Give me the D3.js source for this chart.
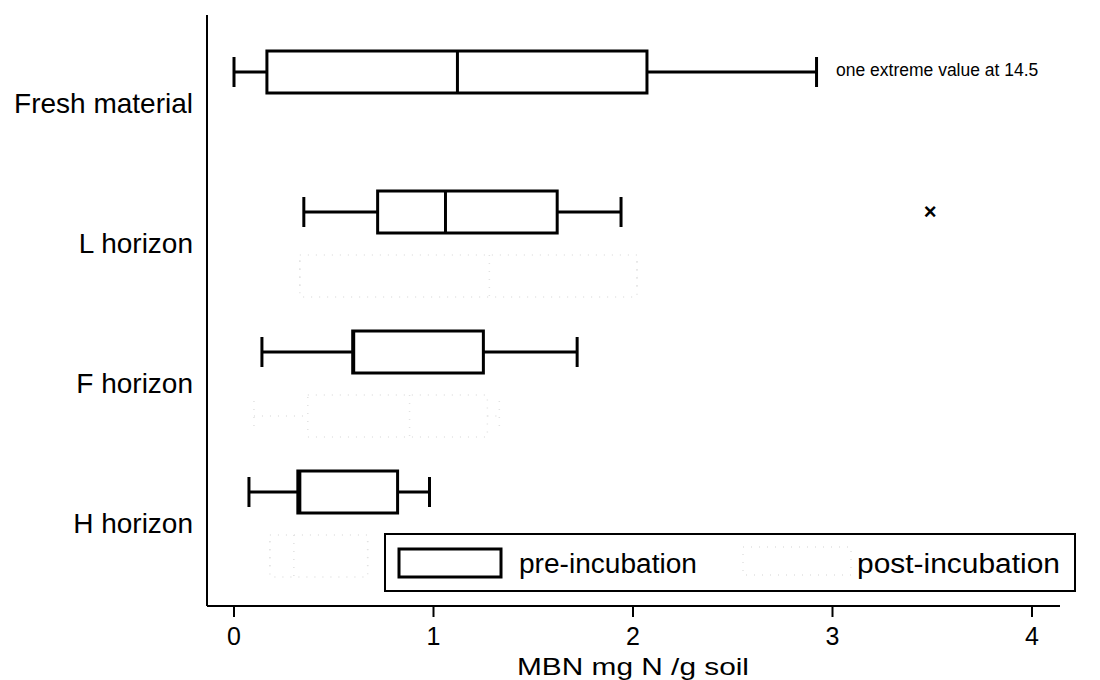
<!DOCTYPE html>
<html>
<head>
<meta charset="utf-8">
<script src="https://cdn.jsdelivr.net/npm/d3@7"></script>
<style>
  body { margin: 0; background: #fff; }
  text { font-family: Arial, "Liberation Sans", sans-serif; fill: #000; }
</style>
</head>
<body>
<svg></svg>
<script>
const size = {w: 1100, h: 680};
const svg = d3.select('svg').attr('width', size.w).attr('height', size.h);

// ---- data ----
const groups = ['Fresh material', 'L horizon', 'F horizon', 'H horizon'];
const xTicks = [0, 1, 2, 3, 4];
// five number summaries: [min, q1, median, q3, max]
const preStats = [
    [0.0, 0.165, 1.12, 2.07, 2.92],
    [0.35, 0.72, 1.06, 1.62, 1.94],
    [0.14, 0.595, 0.6, 1.25, 1.72],
    [0.075, 0.32, 0.33, 0.82, 0.98]
];
// post incubation boxes are barely visible (very pale print)
const postGroups = ['L horizon', 'F horizon', 'H horizon'];
const postStats = [
    [0.33, 0.33, 1.28, 2.02, 2.02],
    [0.1, 0.37, 0.88, 1.27, 1.33],
    [0.18, 0.18, 0.3, 0.67, 0.67]
];
const outliers = [{group: 'L horizon', value: 3.49}];
const note = 'one extreme value at 14.5';

// ---- scales ----
const x = d3.scaleLinear().domain([0, 4]).range([234, 1032]);
const y = d3.scaleBand().domain(groups).range([33, 593]);
const preOffset = -31, postOffset = 33, boxH = 42;
const pale = '#e2e2e2';

// axes lines
svg.append('line').attr('x1', 207).attr('x2', 207).attr('y1', 15).attr('y2', 606)
    .attr('stroke', '#000').attr('stroke-width', 2);
svg.append('line').attr('x1', 207).attr('x2', 1060).attr('y1', 606).attr('y2', 606)
    .attr('stroke', '#000').attr('stroke-width', 2);

// x ticks
const xAxis = svg.append('g').attr('transform', 'translate(0,606)');
xAxis.selectAll('line').data(xTicks).join('line')
    .attr('x1', d => x(d)).attr('x2', d => x(d))
    .attr('y1', 0).attr('y2', 11)
    .attr('stroke', '#000').attr('stroke-width', 2);
xAxis.selectAll('text').data(xTicks).join('text')
    .attr('x', d => x(d)).attr('y', 39)
    .attr('text-anchor', 'middle')
    .style('font-size', '25px')
    .text(d => d);
svg.append('text').attr('x', x(2)).attr('y', 675)
    .attr('text-anchor', 'middle').style('font-size', '24px')
    .attr('textLength', 232).attr('lengthAdjust', 'spacingAndGlyphs')
    .text('MBN mg N /g soil');

// group labels
svg.selectAll('text.glabel').data(groups).join('text')
    .classed('glabel', true)
    .attr('x', 193)
    .attr('y', d => y(d) + y.bandwidth() / 2 + 10)
    .attr('text-anchor', 'end')
    .style('font-size', '28px')
    .text(d => d);

function drawBoxes(g, data, names, offset, color, width, dash) {
    const sel = g.selectAll('g.box').data(data).join('g').classed('box', true)
        .attr('transform', (d, i) => `translate(0,${y(names[i]) + y.bandwidth() / 2 + offset})`);
    const st = s => s.attr('stroke', color).attr('stroke-width', width).attr('stroke-dasharray', dash).attr('fill', 'none');
    // whiskers
    sel.append('line').attr('x1', d => x(d[0])).attr('x2', d => x(d[1])).attr('y1', 0).attr('y2', 0).call(st);
    sel.append('line').attr('x1', d => x(d[3])).attr('x2', d => x(d[4])).attr('y1', 0).attr('y2', 0).call(st);
    // caps
    sel.append('line').attr('x1', d => x(d[0])).attr('x2', d => x(d[0])).attr('y1', -15).attr('y2', 15).call(st);
    sel.append('line').attr('x1', d => x(d[4])).attr('x2', d => x(d[4])).attr('y1', -15).attr('y2', 15).call(st);
    // box
    sel.append('rect').attr('x', d => x(d[1])).attr('y', -boxH / 2)
        .attr('width', d => x(d[3]) - x(d[1])).attr('height', boxH).call(st);
    // median
    sel.append('line').attr('x1', d => x(d[2])).attr('x2', d => x(d[2]))
        .attr('y1', -boxH / 2).attr('y2', boxH / 2).call(st);
}

const postG = svg.append('g').classed('post', true);
drawBoxes(postG, postStats, postGroups, postOffset, pale, 1.5, '1,7');
const preG = svg.append('g').classed('pre', true);
drawBoxes(preG, preStats, groups, preOffset, '#000', 3, null);

// outlier marker
svg.selectAll('text.outlier').data(outliers).join('text')
    .classed('outlier', true)
    .attr('x', d => x(d.value))
    .attr('y', d => y(d.group) + y.bandwidth() / 2 + preOffset + 7)
    .attr('text-anchor', 'middle')
    .style('font-size', '22px').style('font-weight', 'bold')
    .text('×');

// note next to the fresh material whisker
svg.append('text').attr('x', 836).attr('y', 76)
    .style('font-size', '17.5px').text(note);

// legend
const leg = svg.append('g');
leg.append('rect').attr('x', 385).attr('y', 534).attr('width', 690).attr('height', 57)
    .attr('fill', '#fff').attr('stroke', '#000').attr('stroke-width', 2);
leg.append('rect').attr('x', 399).attr('y', 549).attr('width', 102).attr('height', 28)
    .attr('fill', 'none').attr('stroke', '#000').attr('stroke-width', 3);
leg.append('text').attr('x', 519).attr('y', 573).style('font-size', '27px')
    .attr('textLength', 178).attr('lengthAdjust', 'spacingAndGlyphs').text('pre-incubation');
leg.append('rect').attr('x', 743).attr('y', 547).attr('width', 108).attr('height', 28)
    .attr('fill', 'none').attr('stroke', pale).attr('stroke-width', 1.5).attr('stroke-dasharray', '1,7');
leg.append('text').attr('x', 857).attr('y', 573)
    .style('font-size', '27px')
    .attr('textLength', 203).attr('lengthAdjust', 'spacingAndGlyphs').text('post-incubation');
</script>
</body>
</html>
